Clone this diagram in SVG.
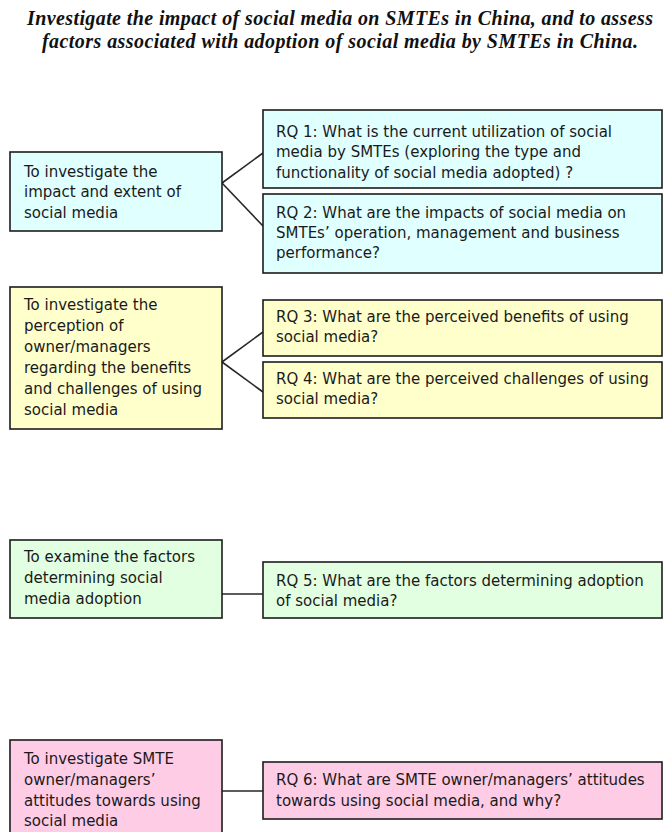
<svg xmlns="http://www.w3.org/2000/svg" width="663" height="832" viewBox="0 0 663 832">
  <style>
    .box { stroke: #1c1c1c; stroke-width: 1.6; }
    .obj { fill: #e0ffff; }
    .per { fill: #ffffcc; }
    .fac { fill: #e2ffe2; }
    .att { fill: #ffcce6; }
    .txt { font-family: "DejaVu Sans", "Liberation Sans", sans-serif; font-size: 15px; fill: #1a1a1a; }
    .title { font-family: "Liberation Serif", "DejaVu Serif", serif; font-size: 20px; font-weight: bold; font-style: italic; fill: #111; }
    .link { stroke: #262626; stroke-width: 1.6; fill: none; }
  </style>

  <rect width="663" height="832" fill="#ffffff"/>

  <!-- overall aim -->
  <g id="aim">
    <text class="title" x="340" y="25" text-anchor="middle" textLength="626" lengthAdjust="spacing">Investigate the impact of social media on SMTEs in China, and to assess</text>
    <text class="title" x="340" y="48" text-anchor="middle" textLength="596" lengthAdjust="spacing">factors associated with adoption of social media by SMTEs in China.</text>
  </g>

  <!-- connectors between objectives and research questions -->
  <g id="connectors">
    <line class="link" x1="222" y1="183" x2="263" y2="153"/>
    <line class="link" x1="222" y1="183" x2="263" y2="226"/>
    <line class="link" x1="222" y1="362" x2="263" y2="332"/>
    <line class="link" x1="222" y1="362" x2="263" y2="392"/>
    <line class="link" x1="222" y1="594" x2="263" y2="594"/>
    <line class="link" x1="222" y1="791" x2="263" y2="791"/>
  </g>

  <!-- objective 1 -->
  <g id="obj-impact">
    <rect class="box obj" x="10" y="152" width="212" height="79"/>
    <text class="txt" x="24" y="177">To investigate the</text>
    <text class="txt" x="24" y="197">impact and extent of</text>
    <text class="txt" x="24" y="218">social media</text>
  </g>
  <g id="rq1">
    <rect class="box obj" x="263" y="110" width="399" height="78"/>
    <text class="txt" x="276" y="137">RQ 1: What is the current utilization of social</text>
    <text class="txt" x="276" y="157">media by SMTEs (exploring the type and</text>
    <text class="txt" x="276" y="178">functionality of social media adopted) ?</text>
  </g>
  <g id="rq2">
    <rect class="box obj" x="263" y="194" width="399" height="79"/>
    <text class="txt" x="276" y="218">RQ 2: What are the impacts of social media on</text>
    <text class="txt" x="276" y="238">SMTEs’ operation, management and business</text>
    <text class="txt" x="276" y="258">performance?</text>
  </g>

  <!-- objective 2 -->
  <g id="obj-perception">
    <rect class="box per" x="10" y="287" width="212" height="142"/>
    <text class="txt" x="24" y="310">To investigate the</text>
    <text class="txt" x="24" y="331">perception of</text>
    <text class="txt" x="24" y="352">owner/managers</text>
    <text class="txt" x="24" y="373">regarding the benefits</text>
    <text class="txt" x="24" y="394">and challenges of using</text>
    <text class="txt" x="24" y="415">social media</text>
  </g>
  <g id="rq3">
    <rect class="box per" x="263" y="300" width="399" height="56"/>
    <text class="txt" x="276" y="322">RQ 3: What are the perceived benefits of using</text>
    <text class="txt" x="276" y="342">social media?</text>
  </g>
  <g id="rq4">
    <rect class="box per" x="263" y="362" width="399" height="56"/>
    <text class="txt" x="276" y="384">RQ 4: What are the perceived challenges of using</text>
    <text class="txt" x="276" y="404">social media?</text>
  </g>

  <!-- objective 3 -->
  <g id="obj-factors">
    <rect class="box fac" x="10" y="540" width="212" height="78"/>
    <text class="txt" x="24" y="562">To examine the factors</text>
    <text class="txt" x="24" y="583">determining social</text>
    <text class="txt" x="24" y="604">media adoption</text>
  </g>
  <g id="rq5">
    <rect class="box fac" x="263" y="562" width="399" height="56"/>
    <text class="txt" x="276" y="586">RQ 5: What are the factors determining adoption</text>
    <text class="txt" x="276" y="606">of social media?</text>
  </g>

  <!-- objective 4 -->
  <g id="obj-attitudes">
    <rect class="box att" x="10" y="740" width="212" height="100"/>
    <text class="txt" x="24" y="764">To investigate SMTE</text>
    <text class="txt" x="24" y="785">owner/managers’</text>
    <text class="txt" x="24" y="806">attitudes towards using</text>
    <text class="txt" x="24" y="826">social media</text>
  </g>
  <g id="rq6">
    <rect class="box att" x="263" y="762" width="399" height="57"/>
    <text class="txt" x="276" y="785">RQ 6: What are SMTE owner/managers’ attitudes</text>
    <text class="txt" x="276" y="806">towards using social media, and why?</text>
  </g>
</svg>
